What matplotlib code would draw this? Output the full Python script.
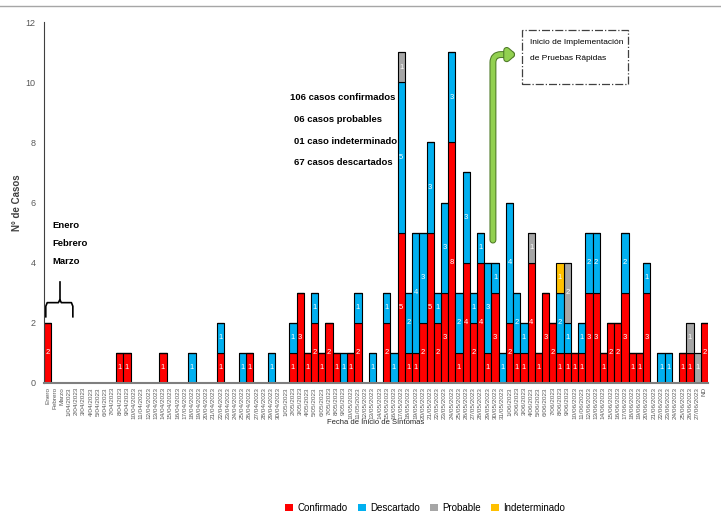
import matplotlib.pyplot as plt
import numpy as np
from matplotlib.patches import Patch, Rectangle
import matplotlib.patheffects as pe

plt.rcParams['font.family'] = ['Liberation Sans', 'DejaVu Sans']

# categorias del eje x
meses = ["Enero", "Febrero", "Marzo"]
dias_abril = [f"{d}/04/2023" for d in range(1, 31)]
dias_mayo = [f"{d}/05/2023" for d in range(1, 32)]
dias_junio = [f"{d}/06/2023" for d in range(1, 28)]
categorias = meses + dias_abril + dias_mayo + dias_junio + ["ND"]

# casos por fecha de inicio de sintomas
confirmado = ([2, 0, 0] +
              [0, 0, 0, 0, 0, 0, 0, 1, 1, 0, 0, 0, 0, 1, 0, 0, 0, 0, 0, 0,
               0, 1, 0, 0, 0, 1, 0, 0, 0, 0] +
              [0, 1, 3, 1, 2, 1, 2, 1, 0, 1, 2, 0, 0, 0, 2, 0, 5, 1, 1, 2,
               5, 2, 3, 8, 1, 4, 2, 4, 1, 3, 0] +
              [2, 1, 1, 4, 1, 3, 2, 1, 1, 1, 1, 3, 3, 1, 2, 2, 3, 1, 1, 3,
               0, 0, 0, 0, 1, 1, 0] +
              [2])
descartado = ([0, 0, 0] +
              [0, 0, 0, 0, 0, 0, 0, 0, 0, 0, 0, 0, 0, 0, 0, 0, 0, 1, 0, 0,
               0, 1, 0, 0, 1, 0, 0, 0, 1, 0] +
              [0, 1, 0, 0, 1, 0, 0, 0, 1, 0, 1, 0, 1, 0, 1, 1, 5, 2, 4, 3,
               3, 1, 3, 3, 2, 3, 1, 1, 3, 1, 1] +
              [4, 2, 1, 0, 0, 0, 0, 2, 1, 0, 1, 2, 2, 0, 0, 0, 2, 0, 0, 1,
               0, 1, 1, 0, 0, 0, 0] +
              [0])
probable = ([0, 0, 0] + [0] * 30 +
            [0] * 16 + [1] + [0] * 14 +
            [0, 0, 0, 1, 0, 0, 0, 0, 2, 0, 0, 0, 0, 0, 0, 0, 0, 0, 0, 0,
             0, 0, 0, 0, 0, 1, 1] +
            [0])
indeterminado = ([0, 0, 0] + [0] * 30 + [0] * 31 +
                 [0, 0, 0, 0, 0, 0, 0, 1] + [0] * 19 +
                 [0])

series = [("Confirmado", confirmado, "#FF0000"),
          ("Descartado", descartado, "#00B0F0"),
          ("Probable", probable, "#A6A6A6"),
          ("Indeterminado", indeterminado, "#FFC000")]

fig = plt.figure(figsize=(7.21, 5.26), dpi=100)
ax = fig.add_axes([0.061, 0.272, 0.921, 0.686])

x = np.arange(len(categorias))
bottom = np.zeros(len(categorias))
for name, vals, color in series:
    vals = np.array(vals, dtype=float)
    ax.bar(x, vals, bottom=bottom, width=1.0, color=color,
           edgecolor="black", linewidth=0.8, label=name)
    for xi, v, b in zip(x, vals, bottom):
        if v > 0:
            ax.text(xi, b + v / 2, str(int(v)), ha="center", va="center",
                    fontsize=5.5, color="white")
    bottom += vals

ax.set_xlim(-0.5, len(categorias) - 0.5)
ax.set_ylim(0, 12)
ax.set_yticks(range(0, 13, 2))
ax.set_xticks(x)
ax.set_xticklabels(categorias, rotation=90, fontsize=4.6, color="#595959")
ax.tick_params(axis="y", labelsize=6.5, colors="#595959", length=0, pad=6)
ax.tick_params(axis="x", length=0, pad=3)
for s in ["top", "right"]:
    ax.spines[s].set_visible(False)
ax.spines["left"].set_color("#404040")
ax.spines["bottom"].set_color("#7F7F7F")
ax.spines["bottom"].set_linewidth(1.5)

ax.set_ylabel("N° de Casos", fontsize=7, fontweight="bold", color="#404040")
ax.yaxis.set_label_coords(-0.033, 0.5)
ax.set_xlabel("Fecha de Inicio de Síntomas", fontsize=5.5, color="#262626")
ax.xaxis.set_label_coords(0.5, -0.1)

# resumen
resumen = ["106 casos confirmados", "06 casos probables",
           "01 caso indeterminado", "67 casos descartados"]
fig.text(290 / 721, 1 - 97 / 526, resumen[0], fontsize=6.8, fontweight="bold",
         va="center")
for i, t in enumerate(resumen[1:]):
    fig.text(294 / 721, 1 - (119 + 22 * i) / 526, t, fontsize=6.8,
             fontweight="bold", va="center")

# meses agrupados
for i, t in enumerate(meses):
    fig.text(52 / 721, 1 - (226 + 18 * i) / 526, t, fontsize=6.8,
             fontweight="bold", va="center")
ax.plot([-0.25, -0.25, -0.05, 1.5, 1.7, 1.9, 3.3, 3.5, 3.5],
        [2.2, 2.55, 2.67, 2.67, 2.77, 2.67, 2.67, 2.55, 2.2],
        color="black", lw=1.2, clip_on=False)
ax.plot([1.7, 1.7], [2.77, 3.37], color="black", lw=1.2)

# flecha de inicio de pruebas rapidas
ax.annotate("", xy=(64.8, 10.92), xytext=(61.7, 4.75),
            arrowprops=dict(arrowstyle="-|>,head_length=0.35,head_width=0.3",
                            connectionstyle="angle,angleA=90,angleB=0,rad=8",
                            lw=3.5, color="#92D050", shrinkA=0, shrinkB=0,
                            path_effects=[pe.Stroke(linewidth=5,
                                                    foreground="#4E7A28"),
                                          pe.Normal()]))
box = Rectangle((522 / 721, 1 - 84 / 526), 106 / 721, 54 / 526,
                transform=fig.transFigure, fill=False, edgecolor="#404040",
                linestyle="-.", linewidth=0.9)
fig.add_artist(box)
fig.text(530 / 721, 1 - 43 / 526, "Inicio de Implementación", fontsize=6,
         va="center")
fig.text(530 / 721, 1 - 59 / 526, "de Pruebas Rápidas", fontsize=6,
         va="center")

# marco del grafico
fig.add_artist(plt.Line2D([0, 1], [1 - 6 / 526, 1 - 6 / 526],
                          transform=fig.transFigure, color="#A6A6A6", lw=1))

handles = [Patch(facecolor=c, edgecolor="none", label=n) for n, v, c in series]
fig.legend(handles=handles, loc="center", bbox_to_anchor=(0.59, 1 - 508 / 526),
           ncol=4, frameon=False, fontsize=7, handlelength=0.8,
           handleheight=0.8, columnspacing=1.0, handletextpad=0.5)

fig.savefig("out.png", dpi=100)
